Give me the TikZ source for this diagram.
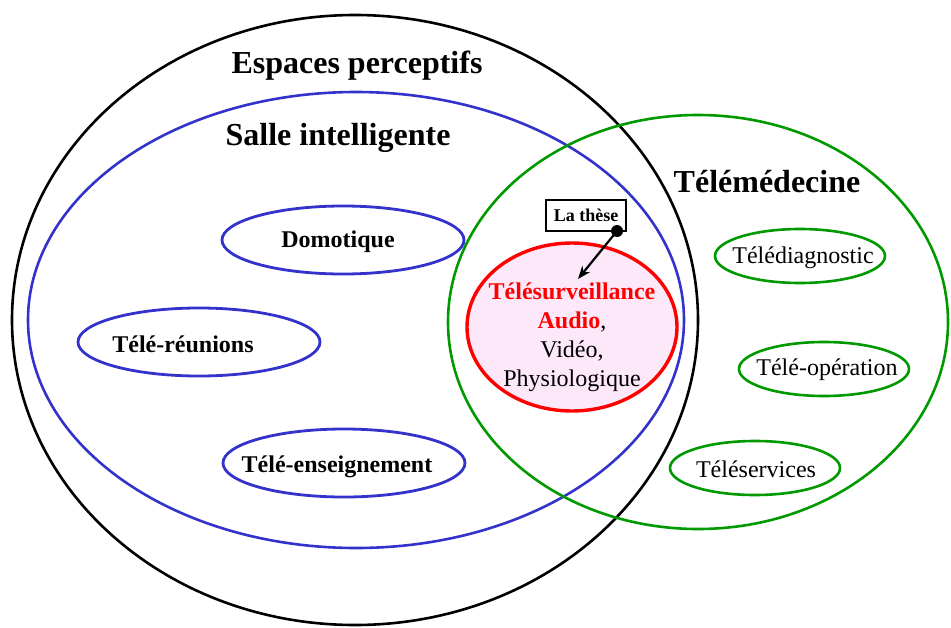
\documentclass[tikz,border=0pt]{standalone}
\usepackage{fontspec}
\setmainfont{Liberation Serif}
\usetikzlibrary{shapes.geometric,arrows.meta}
\definecolor{salleblue}{RGB}{51,51,204}
\definecolor{medgreen}{RGB}{0,153,0}
\definecolor{thesered}{RGB}{255,0,0}
\definecolor{thesepink}{RGB}{252,232,248}
\begin{document}
\begin{tikzpicture}[x=1pt,y=-1pt,
  zone/.style={ellipse, draw, line width=2.6pt, inner sep=0pt},
  title/.style={font=\fontsize{32}{34}\selectfont\bfseries, anchor=base},
  bluetext/.style={font=\fontsize{24}{26}\selectfont\bfseries, anchor=base},
  greentext/.style={font=\fontsize{24}{26}\selectfont, anchor=base},
  bluebox/.style={zone, draw=salleblue, line width=2.8pt, minimum width=242pt, minimum height=68pt},
  greenbox/.style={zone, draw=medgreen, minimum width=170pt, minimum height=54pt}]
\useasboundingbox (0,0) rectangle (951,627);

% nested domains
\node[zone, draw=black, minimum width=686pt, minimum height=610pt] (espaces) at (355,320) {};
\node[zone, draw=salleblue, minimum width=656pt, minimum height=456pt] (salle) at (356,320) {};
\node[zone, draw=medgreen, minimum width=500pt, minimum height=414pt] (telemed) at (698,322) {};
\node[zone, draw=thesered, fill=thesepink, line width=3.4pt,
      minimum width=210pt, minimum height=168pt] (surv) at (572,327) {};

% domain titles
\node[title] (tEsp) at (357,73) {Espaces perceptifs};
\node[title] (tSalle) at (338,145) {Salle intelligente};
\node[title] (tMed) at (767,192) {Télémédecine};

% smart-room applications
\node[bluebox] (domo) at (343,240) {};
\node[bluebox] (reun) at (199,342) {};
\node[bluebox] (ens) at (344,463) {};
\node[bluetext] (domoT) at (338,247) {Domotique};
\node[bluetext] (reunT) at (183,352) {Télé-réunions};
\node[bluetext] (ensT) at (337,472) {Télé-enseignement};

% telemedicine applications
\node[greenbox] (diag) at (800,256) {};
\node[greenbox] (oper) at (824,369) {};
\node[greenbox] (serv) at (755,468) {};
\node[greentext] (diagT) at (803,263) {Télédiagnostic};
\node[greentext] (operT) at (827,375) {Télé-opération};
\node[greentext] (servT) at (756,477) {Téléservices};

% remote monitoring
\node[align=center, font=\fontsize{24}{29}\selectfont] (survText) at (572,337)
  {\textcolor{thesered}{\bfseries Télésurveillance}\\
   \textcolor{thesered}{\bfseries Audio},\\
   Vidéo,\\
   Physiologique};

% thesis marker
\node[draw=black, line width=2.2pt, minimum width=80pt, minimum height=31pt, inner sep=0pt,
      font=\fontsize{18}{20}\selectfont\bfseries] (these) at (586,215.5) {La thèse};
\coordinate (theseDot) at (617,231);
\coordinate (theseTip) at (578,279);
\draw[line width=2.2pt, -{Stealth[length=13pt,width=10pt]}] (theseDot) -- (theseTip);
\fill (theseDot) circle (6);
\end{tikzpicture}
\end{document}
